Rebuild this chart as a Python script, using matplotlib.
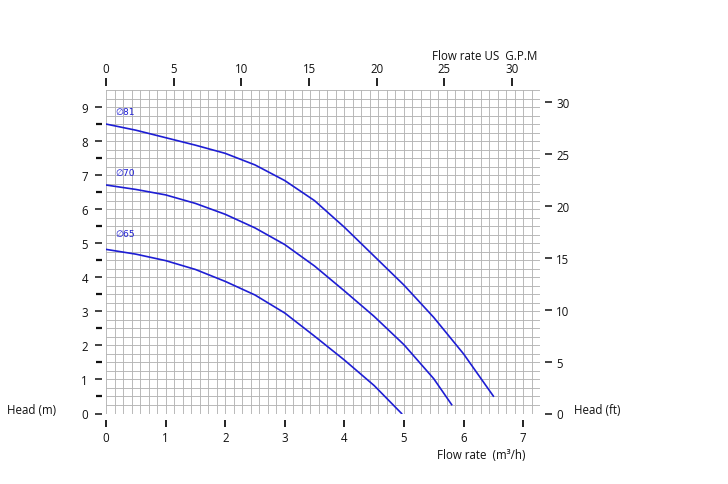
import numpy as np
import matplotlib
matplotlib.use("Agg")
import matplotlib.pyplot as plt

plt.rcParams['font.family'] = ['Open Sans', 'DejaVu Sans']

# Data (flow m3/h, head m)
flow_81 = [0, 0.5, 1.0, 1.5, 2.0, 2.5, 3.0, 3.5, 4.0, 4.5, 5.0, 5.5, 6.0, 6.5]
head_81 = [8.50, 8.32, 8.10, 7.88, 7.64, 7.30, 6.84, 6.25, 5.47, 4.62, 3.77, 2.82, 1.75, 0.51]
flow_70 = [0, 0.5, 1.0, 1.5, 2.0, 2.5, 3.0, 3.5, 4.0, 4.5, 5.0, 5.5, 5.8]
head_70 = [6.71, 6.58, 6.42, 6.17, 5.85, 5.45, 4.96, 4.33, 3.60, 2.85, 2.02, 1.02, 0.26]
flow_65 = [0, 0.5, 1.0, 1.5, 2.0, 2.5, 3.0, 3.5, 4.0, 4.5, 4.96]
head_65 = [4.82, 4.68, 4.49, 4.23, 3.88, 3.48, 2.95, 2.27, 1.57, 0.82, 0.0]
curve_labels = ["\u220581", "\u220570", "\u220565"]
label_heads = [8.88, 7.09, 5.29]

x_ticks = [0, 1, 2, 3, 4, 5, 6, 7]
y_ticks = [0, 1, 2, 3, 4, 5, 6, 7, 8, 9]
gpm_ticks = [0, 5, 10, 15, 20, 25, 30]
ft_ticks = [0, 5, 10, 15, 20, 25, 30]

M3H_TO_GPM = 4.4029
M_TO_FT = 3.2808

XMAX = 51 / 7
YMAX = 9.5
blue = '#1e1ed4'
gridc = '#b4b4b4'
tc = '#111111'

fig = plt.figure(figsize=(7.28, 4.85), dpi=100)
ax = fig.add_axes([106 / 728, (485 - 414.5) / 485, (540.2 - 106) / 728, 323.5 / 485])
ax.set_xlim(0, XMAX)
ax.set_ylim(0, YMAX)

# grid
for gx in np.arange(0, XMAX + 1e-6, 1 / 7):
    ax.axvline(gx, color=gridc, lw=0.65, zorder=1)
for gy in np.arange(0, YMAX + 1e-6, 0.25):
    ax.axhline(gy, color=gridc, lw=0.65, zorder=1)

for fx, hy in [(flow_81, head_81), (flow_70, head_70), (flow_65, head_65)]:
    ax.plot(fx, hy, color=blue, lw=1.2, zorder=3, solid_joinstyle='round')

for lab, hy in zip(curve_labels, label_heads):
    ax.text(0.16, hy, lab, color=blue, fontsize=6.6, va='center', ha='left',
            family=['DejaVu Sans'], zorder=4)

for s in ax.spines.values():
    s.set_visible(False)
ax.spines['left'].set_position(('outward', 3))
ax.spines['bottom'].set_position(('outward', 4.5))

ax.set_xticks(x_ticks)
ax.set_yticks(y_ticks)
ax.set_yticks(np.arange(0.5, 9.5, 1.0), minor=True)
ax.tick_params(axis='x', which='major', direction='out', length=5, width=1.3, pad=3,
               labelsize=8.3, colors=tc)
ax.tick_params(axis='y', which='major', direction='out', length=5, width=1.1, pad=5,
               labelsize=8.3, colors=tc)
ax.tick_params(axis='y', which='minor', direction='out', length=4, width=1.6, colors=tc)

# top axis: GPM
axt = ax.twiny()
axt.set_xlim(0, XMAX * M3H_TO_GPM)
for s in axt.spines.values():
    s.set_visible(False)
axt.spines['top'].set_position(('outward', 3))
axt.set_xticks(gpm_ticks)
axt.tick_params(axis='x', direction='out', length=5.5, width=1.3, pad=2,
                labelsize=8.3, colors=tc)

# right axis: ft
axr = ax.twinx()
axr.set_ylim(0, YMAX * M_TO_FT)
for s in axr.spines.values():
    s.set_visible(False)
axr.spines['right'].set_position(('outward', 3.5))
axr.set_yticks(ft_ticks)
axr.tick_params(axis='y', direction='out', length=5, width=1.1, pad=3,
                labelsize=8.3, colors=tc)

fig.text(7 / 728, (485 - 411) / 485, "Head (m)", fontsize=8.3, va='center', ha='left', color=tc)
fig.text(574 / 728, (485 - 411) / 485, "Head (ft)", fontsize=8.3, va='center', ha='left', color=tc)
fig.text(432 / 728, (485 - 56) / 485, "Flow rate US  G.P.M", fontsize=8.3, va='center', ha='left', color=tc)
fig.text(437 / 728, (485 - 456) / 485, "Flow rate  (m\u00b3/h)", fontsize=8.3, va='center', ha='left', color=tc)

fig.savefig("out.png", dpi=100, facecolor='white')
